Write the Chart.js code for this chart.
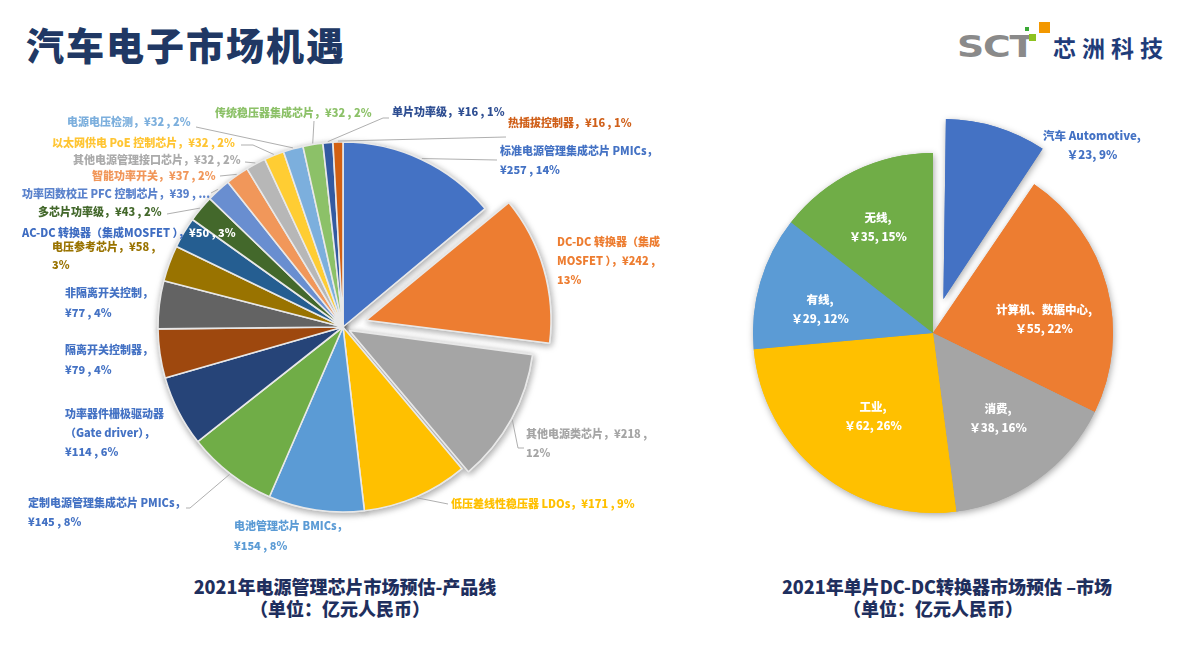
<!DOCTYPE html>
<html>
<head>
<meta charset="utf-8">
<script src="https://cdn.jsdelivr.net/npm/chart.js@4.4.0/dist/chart.umd.min.js"></script>
<style>
    body { margin: 0; width: 1183px; height: 646px; background: #fff; position: relative; overflow: hidden; font-family: "Noto Sans CJK SC", sans-serif; }
    canvas { position: absolute; left: 0; top: 0; pointer-events: none; }
    .title { position: absolute; left: 26px; top: 25px; font-size: 38px; line-height: 1; font-weight: 900; color: #203864; letter-spacing: 2px; white-space: nowrap; }
    .logo-sct { position: absolute; left: 957px; top: 31px; font-family: "DejaVu Sans", sans-serif; font-weight: 700; font-size: 31px; line-height: 1; color: #8a8a8a; transform: scaleX(1.22); transform-origin: left top; letter-spacing: -1px; }
    .sq { position: absolute; }
    .logo-cn { position: absolute; left: 1053px; top: 36px; font-size: 23px; line-height: 1; font-weight: 700; color: #1f3c79; letter-spacing: 6px; white-space: nowrap; }
    .cap { position: absolute; font-size: 18px; line-height: 1; font-weight: 900; color: #1f2f5e; white-space: nowrap; transform: translateX(-50%); }
</style>
</head>
<body>
<div class="title">汽车电子市场机遇</div>
<div class="logo-sct">SCT</div>
<div class="sq" style="left:1039px;top:22px;width:11px;height:11px;background:#f39800"></div>
<div class="sq" style="left:1029px;top:34px;width:7px;height:7px;background:#8dc21f"></div>
<div class="sq" style="left:1025px;top:27px;width:4px;height:4px;background:#3aa935"></div>
<div class="logo-cn">芯洲科技</div>

<div class="cap" style="left:345px;top:577px">2021年电源管理芯片市场预估-产品线</div>
<div class="cap" style="left:340px;top:599px">（单位：亿元人民币）</div>
<div class="cap" style="left:947px;top:577px">2021年单片DC-DC转换器市场预估 –市场</div>
<div class="cap" style="left:933px;top:599px">（单位：亿元人民币）</div>

<canvas id="productPie" width="1183" height="646"></canvas>
<canvas id="marketPie" width="1183" height="646"></canvas>

<script>
// 左图：电源管理芯片产品线（亿元）
const productNames = ['标准电源管理集成芯片 PMICs', 'DC-DC 转换器（集成MOSFET ）', '其他电源类芯片', '低压差线性稳压器 LDOs',
    '电池管理芯片 BMICs', '定制电源管理集成芯片 PMICs', '功率器件栅极驱动器（Gate driver）', '隔离开关控制器',
    '非隔离开关控制', '电压参考芯片', 'AC-DC 转换器（集成MOSFET ）', '多芯片功率级', '功率因数校正 PFC 控制芯片',
    '智能功率开关', '其他电源管理接口芯片', '以太网供电 PoE 控制芯片', '电源电压检测', '传统稳压器集成芯片',
    '单片功率级', '热插拔控制器'];
const productValues = [257, 242, 218, 171, 154, 145, 114, 79, 77, 58, 50, 43, 39, 37, 32, 32, 32, 32, 16, 16];
const productPct = [14, 13, 12, 9, 8, 8, 6, 4, 4, 3, 3, 2, 2, 2, 2, 2, 2, 2, 1, 1];
const productColors = ['#4472C4', '#ED7D31', '#A5A5A5', '#FFC000', '#5B9BD5', '#70AD47', '#264478', '#9E480E',
    '#636363', '#997300', '#255E91', '#43682B', '#698ED0', '#F1975A', '#B7B7B7', '#FFCD33', '#7CAFDD', '#8CC168',
    '#335AA1', '#D26012'];
const productOffsets = [0, 96, 28, 0, 0, 0, 0, 0, 0, 0, 0, 0, 0, 0, 0, 0, 0, 0, 0, 0];

// 右图：单片 DC-DC 转换器市场（亿元）
const marketNames = ['汽车 Automotive', '计算机、数据中心', '消费', '工业', '有线', '无线'];
const marketValues = [23, 55, 38, 62, 29, 35];
const marketPct = [9, 22, 16, 26, 12, 15];
const marketColors = ['#4472C4', '#ED7D31', '#A5A5A5', '#FFC000', '#5B9BD5', '#70AD47'];
const marketOffsets = [142, 0, 0, 0, 0, 0];

// 标签摆放（页面坐标）
const productLabelLayout = [
    { x: 500, y: 151, cut: ['val'], lead: [[497, 160]], color: '#4472C4' },
    { x: 557, y: 242, cut: ['MOSFET', 'pct'], color: '#ED7D31' },
    { x: 526, y: 434, cut: ['pct'], lead: [[518, 448], [524, 448]], color: '#A5A5A5' },
    { x: 451, y: 504, lead: [[448, 504]], color: '#FFC000' },
    { x: 234, y: 526, lh: 20, cut: ['val'], color: '#5B9BD5' },
    { x: 28, y: 503, cut: ['val'], lead: [[190, 508], [186, 508]], color: '#4472C4' },
    { x: 65, y: 414, cut: ['（', 'val'], color: '#4472C4' },
    { x: 65, y: 350, lh: 20, cut: ['val'], color: '#4472C4' },
    { x: 65, y: 293, lh: 20, cut: ['val'], color: '#4472C4' },
    { x: 52, y: 247, lh: 18, cut: ['pct'], color: '#997300' },
    { x: 22, y: 233, tail: '#ffffff', color: '#3F6DC2' },
    { x: 38, y: 212, lead: [[167, 214]], color: '#43682B' },
    { x: 22, y: 194, more: true, lead: [[211, 193]], color: '#5A82CC' },
    { x: 92, y: 176, lead: [[220, 176]], color: '#F1975A' },
    { x: 73, y: 160, lead: [[245, 162]], color: '#ABABAB' },
    { x: 52, y: 143, lead: [[253, 145], [241, 145]], color: '#FFC533' },
    { x: 67, y: 122, lead: [[196, 127]], color: '#7CAFDD' },
    { x: 215, y: 113, lead: [[314, 121]], color: '#8CC168' },
    { x: 392, y: 112, lead: [[383, 118], [389, 118]], color: '#2E4E92' },
    { x: 508, y: 123, lead: [[506, 137]], color: '#D0601A' }
];
const marketLabelLayout = [
    { x: 1092, y: 136, color: '#4472C4' },
    { x: 1044, y: 310, color: '#ffffff' },
    { x: 998, y: 409, color: '#ffffff' },
    { x: 873, y: 407, color: '#ffffff' },
    { x: 820, y: 300, color: '#ffffff' },
    { x: 878, y: 218, color: '#ffffff' }
];

function splitLines(text, cuts) {
    const lines = [];
    let rest = text;
    (cuts || []).forEach(c => {
        const i = rest.indexOf(c);
        if (i > 0) {
            lines.push(rest.slice(0, i));
            rest = rest.slice(i);
        }
    });
    lines.push(rest);
    return lines;
}

// 扇区外移后保持半径不变，并画出阴影
function pieTweaks(radius) {
    return {
        id: 'pieTweaks',
        afterUpdate(chart) {
            chart.getDatasetMeta(0).data.forEach(arc => {
                const off = (arc.options.offset || 0) / 4;
                const fix = 1 - Math.sin(Math.min(Math.PI, arc.circumference));
                arc.outerRadius = radius - off * fix;
            });
        },
        beforeDatasetsDraw(chart) {
            const ctx = chart.ctx;
            ctx.save();
            ctx.shadowColor = 'rgba(0,0,0,0.35)';
            ctx.shadowBlur = 7;
            ctx.shadowOffsetX = 1;
            ctx.shadowOffsetY = 2;
            chart.getDatasetMeta(0).data.forEach(arc => arc.draw(ctx));
            ctx.restore();
        }
    };
}

function arcEdgePoint(arc, radius) {
    const a = (arc.startAngle + arc.endAngle) / 2;
    const t = (arc.options.offset || 0) / 4;
    return [arc.x + Math.cos(a) * (radius + t + 1), arc.y + Math.sin(a) * (radius + t + 1)];
}

// 左图标签
const productLabels = {
    id: 'productLabels',
    afterDatasetsDraw(chart) {
        const ctx = chart.ctx;
        const arcs = chart.getDatasetMeta(0).data;
        ctx.save();
        ctx.font = '900 11px "Noto Sans CJK SC"';
        ctx.textBaseline = 'middle';
        ctx.textAlign = 'left';
        productLabelLayout.forEach((lay, i) => {
            const v = '¥' + productValues[i];
            const p = productPct[i] + '%';
            const text = productNames[i] + '，' + v + ' , ' + (lay.more ? '...' : p);
            if (lay.lead) {
                const pts = [arcEdgePoint(arcs[i], 185)].concat(lay.lead);
                ctx.strokeStyle = '#A6A6A6';
                ctx.lineWidth = 0.9;
                ctx.beginPath();
                pts.forEach((pt, k) => k ? ctx.lineTo(pt[0], pt[1]) : ctx.moveTo(pt[0], pt[1]));
                ctx.stroke();
            }
            const cuts = (lay.cut || []).map(c => c === 'val' ? v : c === 'pct' ? p : c);
            const lines = splitLines(text, cuts);
            const lh = lay.lh || 19;
            lines.forEach((line, k) => {
                const y = lay.y + k * lh;
                if (lay.tail) {
                    const j = line.indexOf(v);
                    const head = line.slice(0, j);
                    ctx.fillStyle = lay.color;
                    ctx.fillText(head, lay.x, y);
                    ctx.fillStyle = lay.tail;
                    ctx.fillText(line.slice(j), lay.x + ctx.measureText(head).width, y);
                } else {
                    ctx.fillStyle = lay.color;
                    ctx.fillText(line, lay.x, y);
                }
            });
        });
        ctx.restore();
    }
};

// 右图标签
const marketLabels = {
    id: 'marketLabels',
    afterDatasetsDraw(chart) {
        const ctx = chart.ctx;
        ctx.save();
        ctx.font = '900 11.5px "Noto Sans CJK SC"';
        ctx.textBaseline = 'middle';
        ctx.textAlign = 'center';
        marketLabelLayout.forEach((lay, i) => {
            ctx.fillStyle = lay.color;
            ctx.fillText(marketNames[i] + ',', lay.x, lay.y);
            ctx.fillText('￥' + marketValues[i] + ', ' + marketPct[i] + '%', lay.x, lay.y + 19);
        });
        ctx.restore();
    }
};

(function () {
    "use strict";

    const productRadius = 185;
    new Chart(document.getElementById('productPie'), {
        type: 'pie',
        data: {
            labels: productNames,
            datasets: [{
                data: productValues,
                backgroundColor: productColors,
                borderColor: '#E8E8E8',
                borderWidth: 1.6,
                offset: productOffsets,
                radius: productRadius
            }]
        },
        options: {
            responsive: false,
            animation: false,
            events: [],
            radius: productRadius,
            layout: { padding: { left: 0, right: 497, top: 87, bottom: 79 } },
            plugins: { legend: { display: false }, tooltip: { enabled: false } }
        },
        plugins: [pieTweaks(productRadius), productLabels]
    });

    const marketRadius = 180;
    new Chart(document.getElementById('marketPie'), {
        type: 'pie',
        data: {
            labels: marketNames,
            datasets: [{
                data: marketValues,
                backgroundColor: marketColors,
                borderWidth: 0,
                offset: marketOffsets,
                radius: marketRadius
            }]
        },
        options: {
            responsive: false,
            animation: false,
            events: [],
            radius: marketRadius,
            layout: { padding: { left: 683, right: 0, top: 93, bottom: 73 } },
            plugins: { legend: { display: false }, tooltip: { enabled: false } }
        },
        plugins: [pieTweaks(marketRadius), marketLabels]
    });
})();
</script>
</body>
</html>
